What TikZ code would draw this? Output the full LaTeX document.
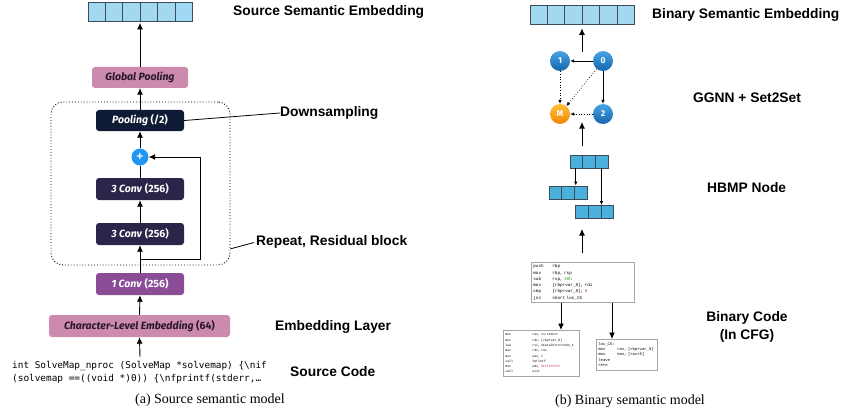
\documentclass[tikz,border=0pt]{standalone}
\usepackage{fontspec}
\setmainfont{Liberation Serif}
\setsansfont{Liberation Sans}
\setmonofont{DejaVu Sans Mono}
\newfontfamily\boxfont{Fira Sans}
\newfontfamily\asmfont{Liberation Mono}
\usetikzlibrary{arrows.meta,calc}
\definecolor{cellblue}{RGB}{163,216,242}
\definecolor{cellline}{RGB}{60,76,88}
\definecolor{hbmpblue}{RGB}{74,176,220}
\definecolor{pinkbox}{RGB}{204,138,174}
\definecolor{boxtxt}{RGB}{40,24,40}
\definecolor{navybox}{RGB}{15,27,53}
\definecolor{convbox}{RGB}{41,38,74}
\definecolor{purplebox}{RGB}{139,76,150}
\definecolor{plusblue}{RGB}{33,150,243}
\definecolor{nodetop}{RGB}{70,165,230}
\definecolor{nodebot}{RGB}{20,100,172}
\definecolor{mtop}{RGB}{255,190,60}
\definecolor{mbot}{RGB}{242,136,0}
\definecolor{asmgreen}{RGB}{46,139,46}
\definecolor{asmpink}{RGB}{200,50,120}

\tikzset{
  lbl/.style={font=\sffamily\bfseries\fontsize{13.8}{18}\selectfont, anchor=west, inner sep=0pt},
  captext/.style={font=\rmfamily\fontsize{14}{16}\selectfont, inner sep=0pt},
  blk/.style={rounded corners=3pt, inner sep=0pt, minimum height=22pt, font=\boxfont\bfseries\fontsize{10.5}{11}\selectfont},
  pinkblk/.style={blk, fill=pinkbox, text=boxtxt},
  darkblk/.style={blk, fill=#1, text=white},
  embbar/.style={draw=cellline, fill=cellblue, line width=0.8pt, minimum width=104pt, minimum height=19pt, inner sep=0pt},
  hbmp/.style={draw=cellline, fill=hbmpblue, line width=0.9pt, minimum width=38pt, minimum height=13pt, inner sep=0pt},
  gnode/.style={circle, minimum size=20pt, inner sep=0pt, top color=#1top, bottom color=#1bot, text=white, font=\boxfont\bfseries\fontsize{8.5}{9}\selectfont},
  resblock/.style={draw, dotted, line width=0.9pt, rounded corners=12pt, minimum width=179pt, minimum height=163pt},
  asm/.style 2 args={draw=gray!70, line width=0.7pt, fill=white, inner xsep=2pt, inner ysep=1pt, anchor=north west, align=left, font=\asmfont\fontsize{#1}{#2}\selectfont},
  arr/.style={-{Latex[length=6.5pt,width=6pt]}, line width=0.9pt},
  thinarr/.style={-{Latex[length=4pt,width=3.5pt]}, line width=0.7pt},
  dotarr/.style={thinarr, dotted}
}

\begin{document}
\begin{tikzpicture}[x=1pt,y=-1pt]
\useasboundingbox (0,0) rectangle (844,412);

% (a) source side
\node[resblock] (res) at (140.5,183.5) {};
\node[embbar] (srcemb) at (140,11.5) {};
\foreach \k in {1,...,5} \draw[cellline, line width=0.8pt] ($(srcemb.south west)!\k/6!(srcemb.south east)$) -- ($(srcemb.north west)!\k/6!(srcemb.north east)$);
\node[pinkblk, minimum width=96pt, minimum height=21pt] (gpool) at (140,77.5) {\textit{Global Pooling}};
\node[darkblk=navybox, minimum width=88pt, minimum height=21pt] (pool) at (140,120.5) {\textit{Pooling} (/2)};
\node[circle, fill=plusblue, minimum size=17pt, inner sep=0pt, text=white, font=\sffamily\bfseries\fontsize{12}{12}\selectfont] (plus) at (140,157) {+};
\node[darkblk=convbox, minimum width=88pt] (conva) at (140,189) {\textit{3 Conv} (256)};
\node[darkblk=convbox, minimum width=88pt] (convb) at (140,234) {\textit{3 Conv} (256)};
\node[darkblk=purplebox, minimum width=88pt] (conv1) at (140,284) {\textit{1 Conv} (256)};
\node[pinkblk, minimum width=181pt] (charemb) at (139.5,326) {\textit{Character-Level Embedding} (64)};
\node[anchor=west, inner sep=0pt, align=left, font=\ttfamily\fontsize{9.4}{13.4}\selectfont] (srccode) at (12,372.5)
  {int SolveMap\_nproc (SolveMap *solvemap) \{\textbackslash{}nif\\(solvemap ==((void *)0)) \{\textbackslash{}nfprintf(stderr,…};
\coordinate (codetop) at (140,357);
\coordinate (skip) at (140,259);

\draw[arr] (codetop) -- (charemb.south);
\draw[arr] (charemb.north) -- (conv1.south);
\draw[arr] (conv1.north) -- (convb.south);
\draw[arr] (convb.north) -- (conva.south);
\draw[line width=0.9pt] (conva.north) -- (plus.south);
\draw[arr] (plus.north) -- (pool.south);
\draw[arr] (pool.north) -- (gpool.south);
\draw[arr, shorten >=1.5pt] (gpool.north) -- (srcemb.south);
\draw[arr] (skip) -- ++(60,0) |- (plus.east); % residual
\node[lbl] (srclbl) at (233,12) {Source Semantic Embedding};
\node[lbl] (downlbl) at (280,113) {Downsampling};
\node[lbl] (replbl) at (256,242) {Repeat, Residual block};
\node[lbl] (emblbl) at (275,327) {Embedding Layer};
\node[lbl] (codelbl) at (290,372) {Source Code};
\draw[line width=0.8pt] (pool.east) -- (downlbl.west);
\draw[line width=0.8pt, shorten >=2pt] (res.-36) -- (replbl.west);
\node[captext] (capa) at (210,400) {(a) Source semantic model};

% (b) binary side
\node[embbar] (binemb) at (582,14.5) {};
\foreach \k in {1,...,5} \draw[cellline, line width=0.8pt] ($(binemb.south west)!\k/6!(binemb.south east)$) -- ($(binemb.north west)!\k/6!(binemb.north east)$);
\node[gnode=node] (n1) at (560,61) {1};
\node[gnode=node] (n0) at (603,61) {0};
\node[gnode=m] (nm) at (560,114) {M};
\node[gnode=node] (n2) at (603,114) {2};
\draw[thinarr] (n0) -- (n1);
\draw[thinarr] (n0) -- (n2);
\draw[dotarr] (n1) -- (nm);
\draw[dotarr] (n0) -- (nm);
\draw[dotarr] (n2) -- (nm);
\coordinate (ggout) at (582,52);
\draw[arr, shorten >=4pt] (ggout) -- (binemb.south);

\node[hbmp] (htop) at (589,161.5) {};
\node[hbmp] (hleft) at (568,192.5) {};
\node[hbmp] (hright) at (594.5,212) {};
\foreach \h in {htop,hleft,hright}
  \foreach \k in {1,2} \draw[cellline, line width=0.9pt] ($(\h.south west)!\k/3!(\h.south east)$) -- ($(\h.north west)!\k/3!(\h.north east)$);
\coordinate (ha) at ($(htop.south west)!0.16!(htop.south east)$);
\coordinate (hb) at ($(htop.south west)!0.82!(htop.south east)$);
\draw[thinarr] (ha) -- (ha |- hleft.north);
\draw[thinarr] (hb) -- (hb |- hright.north);
\coordinate (hbin) at (582,146);
\coordinate (hbout) at (582,122);
\draw[arr] (hbin) -- (hbout);

% CFG blocks
\node[asm={4.3}{6.3}, text width=99pt] (b1) at (531,262) {\begin{tabular}{@{}p{19pt}@{}l@{}}
push & rbp\\ mov & rbp, rsp\\ sub & rsp, \textcolor{asmgreen}{10h}\\ mov & [rbp+var\_8], rdi\\ cmp & [rbp+var\_8], \textcolor{asmpink}{0}\\ jnz & short loc\_C5\end{tabular}};
\node[asm={3.2}{5.3}, text width=72pt, minimum height=46pt] (b2) at (503,330) {\begin{tabular}{@{}p{27pt}@{}l@{}}
mov & rax, cs:stderr\\ mov & rdx, [rbp+var\_8]\\ lea & rsi, aFatalErrorInSo\_1\\ mov & rdi, rax\\ mov & eax, \textcolor{asmgreen}{0}\\ call & fprintf\\ mov & edi, \textcolor{asmpink}{0FFFFFFFFh}\\ call & exit\end{tabular}};
\node[asm={3.9}{5.2}, text width=57pt, minimum height=31pt] (b3) at (596,339) {\begin{tabular}{@{}p{19pt}@{}l@{}}
loc\_C5: & \\ mov & rax, [rbp+var\_8]\\ mov & eax, [rax+8]\\ leave & \\ retn & \end{tabular}};
\coordinate (b1l) at ($(b1.south west)+(30,0)$);
\coordinate (b1r) at ($(b1.south west)+(81,0)$);
\draw[arr] (b1l) -- (b1l |- b2.north);
\draw[arr] (b1r) -- (b1r |- b3.north);
\coordinate (cfgtop) at (582,253);
\coordinate (cfgout) at (582,229);
\draw[arr] (cfgtop) -- (cfgout);

\node[lbl] (binlbl) at (652,15) {Binary Semantic Embedding};
\node[lbl] (gglbl) at (693,98) {GGNN + Set2Set};
\node[lbl] (hblbl) at (707,188) {HBMP Node};
\node[lbl, anchor=center, align=center] (cfglbl) at (747,327) {Binary Code\\(In CFG)};
\node[captext] (capb) at (630,401) {(b) Binary semantic model};
\end{tikzpicture}
\end{document}
